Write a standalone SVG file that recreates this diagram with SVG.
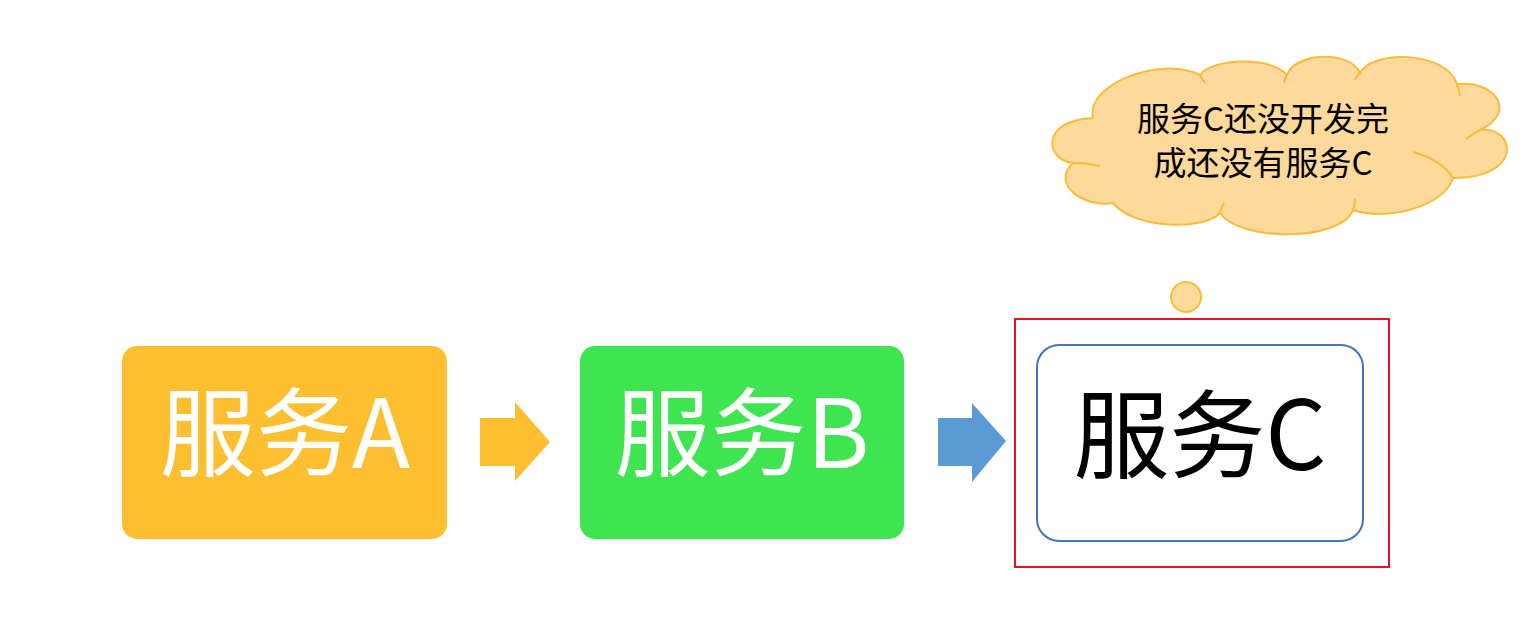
<svg xmlns="http://www.w3.org/2000/svg" width="1530" height="644" viewBox="0 0 1530 644">
<style>
.lbl{font-family:"Noto Sans CJK SC","Noto Sans",sans-serif;font-size:96px;text-anchor:middle}
.cl{font-family:"Noto Sans CJK SC","Noto Sans",sans-serif;font-size:33px;text-anchor:middle;fill:#000}
.cloud{fill:#FDD99B;stroke:#F9BC38;stroke-width:2}
.tick{fill:none;stroke:#F9BC38;stroke-width:2}
</style>
<rect width="1530" height="644" fill="#fff"/>
<g id="nodeA">
<rect x="122" y="346" width="325" height="193" rx="15" fill="#FDBF2F"/>
<text class="lbl" x="285" y="468" fill="#fff">服务A</text>
</g>
<g id="nodeB">
<rect x="580" y="346" width="324" height="193" rx="15" fill="#3EE550"/>
<text class="lbl" x="742" y="468" fill="#fff">服务B</text>
</g>
<g id="frameC">
<rect x="1015" y="319" width="374" height="248" fill="none" stroke="#E81123" stroke-width="2"/>
</g>
<g id="nodeC">
<rect x="1037" y="345" width="326" height="196" rx="22" fill="#fff" stroke="#4472C4" stroke-width="2"/>
<text class="lbl" x="1200" y="470" fill="#000">服务C</text>
</g>
<g id="connectors">
<polygon points="480,418 515,418 515,402 550,442 515,481 515,466 480,466" fill="#FDBF2F"/>
<polygon points="938,418 972,418 972,403 1006,441 972,482 972,466 938,466" fill="#5B9BD5"/>
</g>
<g id="thought">
<circle cx="1186" cy="297" r="15" class="cloud"/>
<path class="cloud" d="M1093,118 C1085,85 1160,55 1200,75 C1212,58 1272,56 1287,75 C1295,52 1350,50 1360,73 C1372,50 1445,50 1457,84 C1495,80 1518,112 1480,130 C1515,125 1525,178 1453,178 C1445,205 1390,222 1353,210 C1340,242 1240,242 1220,213 C1205,230 1135,230 1113,203 C1085,208 1050,185 1073,163 C1045,160 1040,120 1093,118 Z"/>
<path class="tick" d="M1073,163 Q1088,163 1100,166 M1480,130 Q1472,134 1466,139 M1413,152 Q1442,160 1453,178 M1353,210 Q1355,205 1355,199 M1220,213 Q1221,208 1224,203 M1457,84 Q1459,90 1460,96 M1287,75 Q1285,79 1284,83 M1200,75 Q1202,79 1205,83 M1360,73 Q1357,76 1355,80"/>
<text class="cl" x="1263" y="131">服务C还没开发完</text>
<text class="cl" x="1263" y="175">成还没有服务C</text>
</g>
</svg>
